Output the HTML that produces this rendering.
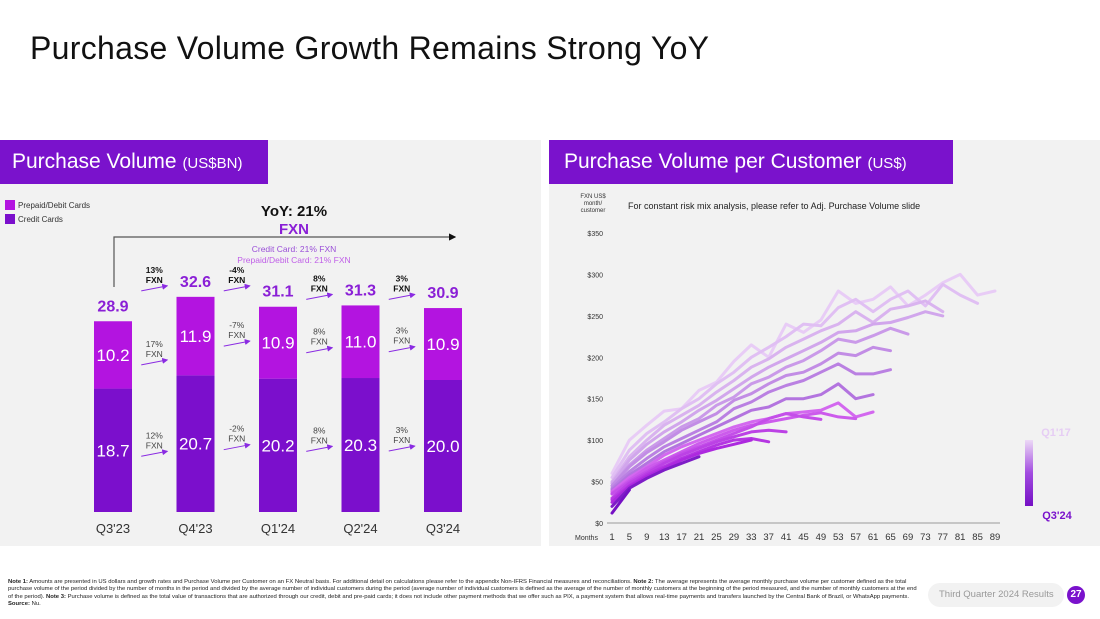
<!DOCTYPE html>
<html><head><meta charset="utf-8">
<style>
body{margin:0;width:1100px;height:619px;background:#fff;font-family:"Liberation Sans",sans-serif;overflow:hidden;position:relative}
.abs{position:absolute}
.panel{background:#f2f2f2}
.hdr{background:#7a12cc;color:#fff;font-size:21px;line-height:44px;padding-left:12px;box-sizing:border-box}
.hdr small{font-size:15px}
</style></head><body>
<div class="abs" style="left:30px;top:30px;font-size:32px;color:#111;letter-spacing:0.3px">Purchase Volume Growth Remains Strong YoY</div>
<div class="abs panel" style="left:0;top:140px;width:541px;height:406px"></div>
<div class="abs panel" style="left:549px;top:140px;width:551px;height:406px"></div>
<div class="abs hdr" style="left:0;top:140px;width:268px;height:44px">Purchase Volume <small>(US$BN)</small></div>
<div class="abs hdr" style="left:549px;top:140px;width:404px;height:44px;padding-left:15px">Purchase Volume per Customer <small>(US$)</small></div>

<svg class="abs" style="left:0;top:0" width="1100" height="619" id="svg">
<defs><linearGradient id="lg" x1="0" y1="0" x2="0" y2="1"><stop offset="0" stop-color="#ecd9f6"/><stop offset="0.5" stop-color="#a24ce0"/><stop offset="1" stop-color="#7510c4"/></linearGradient>
<marker id="ah" markerWidth="6" markerHeight="6" refX="5" refY="3" orient="auto"><path d="M0,0L6,3L0,6z" fill="#8a2be2"/></marker>
<marker id="ahk" markerWidth="6" markerHeight="6" refX="5" refY="3" orient="auto"><path d="M0,0L6,3L0,6z" fill="#111"/></marker></defs>
<g id="left"></g><g id="right"></g>
</svg>

<div class="abs" style="left:8px;top:579px;width:912px;font-size:5.9px;line-height:7.4px;color:#222"><b>Note 1:</b> Amounts are presented in US dollars and growth rates and Purchase Volume per Customer on an FX Neutral basis. For additional detail on calculations please refer to the appendix Non-IFRS Financial measures and reconciliations. <b>Note 2:</b> The average represents the average monthly purchase volume per customer defined as the total purchase volume of the period divided by the number of months in the period and divided by the average number of individual customers during the period (average number of individual customers is defined as the average of the number of monthly customers at the beginning of the period measured, and the number of monthly customers at the end of the period). <b>Note 3:</b> Purchase volume is defined as the total value of transactions that are authorized through our credit, debit and pre-paid cards; it does not include other payment methods that we offer such as PIX, a payment system that allows real-time payments and transfers launched by the Central Bank of Brazil, or WhatsApp payments. <b>Source:</b> Nu.</div>
<div class="abs" style="left:928px;top:583px;width:136px;height:24px;border-radius:12px;background:#f2f2f2;font-size:9.5px;color:#999;line-height:24px;padding-left:11px;box-sizing:border-box">Third Quarter 2024 Results</div>
<div class="abs" style="left:1067px;top:586px;width:18px;height:18px;border-radius:9px;background:#7a12cc;color:#fff;font-size:10px;font-weight:bold;text-align:center;line-height:18px">27</div>

<script>
// ---- Left chart data ----
const quarters=["Q3'23","Q4'23","Q1'24","Q2'24","Q3'24"];
const creditCards=[18.7,20.7,20.2,20.3,20.0];
const prepaidCards=[10.2,11.9,10.9,11.0,10.9];
const totals=[28.9,32.6,31.1,31.3,30.9];
const totalGrowth=["13%","-4%","8%","3%"];
const prepaidGrowth=["17%","-7%","8%","3%"];
const creditGrowth=["12%","-2%","8%","3%"];
// ---- Right chart data ----
const monthTicks=[1,5,9,13,17,21,25,29,33,37,41,45,49,53,57,61,65,69,73,77,81,85,89];
const yTicks=[0,50,100,150,200,250,300,350];
const cohortStep=4;
const cohortA=[60,100,118,135,138,160,170,195,215,200,240,230,245,280,265,270,285,262,275,290,300,275,280];
const cohortB=[55,88,108,122,138,150,168,182,200,212,225,240,238,260,270,255,270,280,262,288,275,265];
const cohortC=[50,80,100,118,130,142,158,172,188,198,212,222,232,240,255,242,258,262,268,255];
const cohortD=[48,76,95,110,122,136,148,162,176,188,198,208,218,230,232,240,242,248,255,250];
const cohortE=[45,70,88,102,116,126,142,152,168,176,188,196,208,222,218,226,235,228];
const cohortF=[45,68,85,98,112,122,132,148,156,168,178,182,192,205,202,212,208];
const cohortG=[42,62,78,92,102,112,122,138,146,158,166,172,182,192,180,180,185];
const cohortH=[40,58,72,86,96,106,116,126,136,140,150,150,155,168,150,155];
const cohortI=[38,55,68,82,92,100,108,116,122,126,132,134,136,145,128,134];
const cohortJ=[36,52,66,76,86,96,104,112,118,122,126,130,133,128,126];
const cohortK=[35,50,62,74,84,92,100,108,116,126,132,128,125];
const cohortL=[30,48,60,72,82,90,98,104,110,112,110];
const cohortM=[28,45,58,68,78,86,94,100,102,98];
const cohortN=[25,44,56,66,76,84,90,95,100];
const cohortO=[20,42,54,64,72,80];
const cohortP=[12,40];
const cohorts=[cohortA,cohortB,cohortC,cohortD,cohortE,cohortF,cohortG,cohortH,cohortI,cohortJ,cohortK,cohortL,cohortM,cohortN,cohortO,cohortP];

const NS="http://www.w3.org/2000/svg";
function mk(tag,attrs,parent,txt){const e=document.createElementNS(NS,tag);for(const k in attrs)e.setAttribute(k,attrs[k]);if(txt!==undefined)e.textContent=txt;parent.appendChild(e);return e;}
const L=document.getElementById('left'),R=document.getElementById('right');

const base=512,scale=6.6;
const bx=i=>113+i*82.5;
const by=v=>base-v*scale;
let e=mk('rect',{x:5,y:200,width:10,height:10,fill:'#b314e0'},L);

e=mk('text',{x:18,y:208,'font-size':8,fill:'#333'},L,'Prepaid/Debit Cards');

e=mk('rect',{x:5,y:214,width:10,height:10,fill:'#7b0fcc'},L);

e=mk('text',{x:18,y:222,'font-size':8,fill:'#333'},L,'Credit Cards');

e=mk('text',{x:294,y:216,'font-size':15,'font-weight':'bold','text-anchor':'middle',fill:'#111'},L,'YoY: 21%');

e=mk('text',{x:294,y:234,'font-size':15,'font-weight':'bold','text-anchor':'middle',fill:'#8a1fd6'},L,'FXN');

e=mk('path',{d:'M114,287V237H455',stroke:'#555','stroke-width':1.2,fill:'none','marker-end':'url(#ahk)'},L);

e=mk('text',{x:294,y:252,'font-size':8.5,'text-anchor':'middle',fill:'#9a4fd8'},L,'Credit Card: 21% FXN');

e=mk('text',{x:294,y:263,'font-size':8.5,'text-anchor':'middle',fill:'#c060e8'},L,'Prepaid/Debit Card: 21% FXN');

quarters.forEach((q,i)=>{
  const x=bx(i)-19;
  let r=mk('rect',{x:x,y:by(creditCards[i]),width:38,height:creditCards[i]*scale,fill:'#7b0fcc'},L);
  
  r=mk('rect',{x:x,y:by(creditCards[i]+prepaidCards[i]),width:38,height:prepaidCards[i]*scale,fill:'#b314e0'},L);
  
  let t=mk('text',{x:bx(i),y:by(creditCards[i]/2)+6,'font-size':17,fill:'#fff','text-anchor':'middle'},L,creditCards[i].toFixed(1));
  
  t=mk('text',{x:bx(i),y:by(creditCards[i]+prepaidCards[i]/2)+6,'font-size':17,fill:'#fff','text-anchor':'middle'},L,prepaidCards[i].toFixed(1));
  
  t=mk('text',{x:bx(i),y:by(totals[i])-10,'font-size':16,'font-weight':'bold',fill:'#8a1fd6','text-anchor':'middle'},L,totals[i].toFixed(1));
  
  t=mk('text',{x:bx(i),y:533,'font-size':13,fill:'#333','text-anchor':'middle'},L,q);
  
});
for(let i=0;i<4;i++){
  const cx=(bx(i)+bx(i+1))/2;
  const groups=[[totalGrowth[i],Math.min(by(totals[i]),by(totals[i+1]))-4,true,'total'],[prepaidGrowth[i],by(creditCards[i]+prepaidCards[i]/2)+12,false,'prepaid'],[creditGrowth[i],by(creditCards[i]/2)+8,false,'credit']];
  groups.forEach(g=>{
    const y=g[1];
    let t=mk('text',{x:cx,y:y-20,'font-size':8.5,'font-weight':g[2]?'bold':'normal',fill:g[2]?'#111':'#444','text-anchor':'middle'},L,g[0]);
    
    t=mk('text',{x:cx,y:y-10,'font-size':8.5,'font-weight':g[2]?'bold':'normal',fill:g[2]?'#111':'#444','text-anchor':'middle'},L,'FXN');
    
    const a=mk('line',{x1:cx-13,y1:y-2,x2:cx+13,y2:y-7,stroke:'#8a2be2','stroke-width':1,'marker-end':'url(#ah)'},L);
    
  });
}

const mx=m=>612+(m-1)*383/88;
const vy=v=>523-v*(290/350);
e=mk('text',{x:593,y:198,'font-size':6,fill:'#333','text-anchor':'middle'},R,'FXN US$');

e=mk('text',{x:593,y:205,'font-size':6,fill:'#333','text-anchor':'middle'},R,'month/');

e=mk('text',{x:593,y:212,'font-size':6,fill:'#333','text-anchor':'middle'},R,'customer');

e=mk('text',{x:628,y:209,'font-size':9,fill:'#222'},R,'For constant risk mix analysis, please refer to Adj. Purchase Volume slide');

yTicks.forEach(v=>{const t=mk('text',{x:603,y:vy(v)+3,'font-size':7,fill:'#333','text-anchor':'end'},R,'$'+v);
});
e=mk('line',{x1:607,y1:vy(0),x2:1000,y2:vy(0),stroke:'#999','stroke-width':1},R);

e=mk('text',{x:575,y:540,'font-size':7,fill:'#333'},R,'Months');

monthTicks.forEach(m=>{const t=mk('text',{x:mx(m),y:540,'font-size':9.5,fill:'#333','text-anchor':'middle'},R,m);
});
const c0=[232,204,246],c1=[118,16,196];
cohorts.forEach((arr,k)=>{
  const f=k/(cohorts.length-1);
  let col=c0.map((c,j)=>Math.round(c+(c1[j]-c)*f));
  if(f>0.5&&f<0.9){col=[Math.min(255,col[0]+40),col[1],Math.min(255,col[2]+20)];}
  const pts=arr.map((v,j)=>mx(1+j*cohortStep).toFixed(1)+','+vy(v).toFixed(1)).join(' ');
  const p=mk('polyline',{points:pts,fill:'none',stroke:'rgb('+col.join(',')+')','stroke-width':3,'stroke-linejoin':'round','stroke-linecap':'round'},R);
  
  
});
e=mk('rect',{x:1025,y:440,width:8,height:66,fill:'url(#lg)'},R);

e=mk('text',{x:1056,y:436,'font-size':11,'font-weight':'bold',fill:'#e6cdf4','text-anchor':'middle'},R,"Q1'17");

e=mk('text',{x:1057,y:519,'font-size':11,'font-weight':'bold',fill:'#7a12cc','text-anchor':'middle'},R,"Q3'24");

</script>
</body></html>
